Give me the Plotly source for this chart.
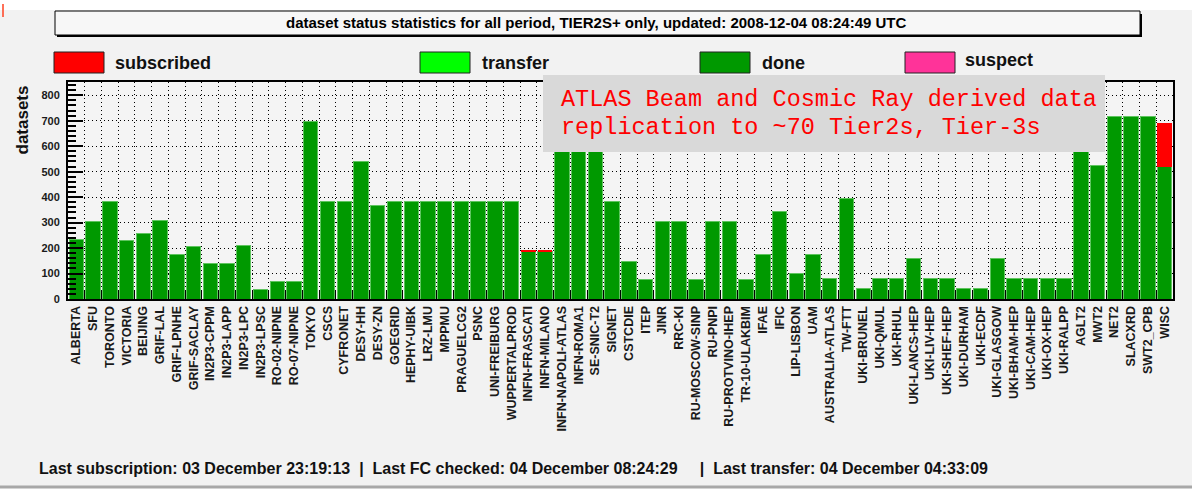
import plotly.graph_objects as go

sites = ["ALBERTA", "SFU", "TORONTO", "VICTORIA", "BEIJING", "GRIF-LAL", "GRIF-LPNHE", "GRIF-SACLAY",
         "IN2P3-CPPM", "IN2P3-LAPP", "IN2P3-LPC", "IN2P3-LPSC", "RO-02-NIPNE", "RO-07-NIPNE", "TOKYO",
         "CSCS", "CYFRONET", "DESY-HH", "DESY-ZN", "GOEGRID", "HEPHY-UIBK", "LRZ-LMU", "MPPMU",
         "PRAGUELCG2", "PSNC", "UNI-FREIBURG", "WUPPERTALPROD", "INFN-FRASCATI", "INFN-MILANO",
         "INFN-NAPOLI-ATLAS", "INFN-ROMA1", "SE-SNIC-T2", "SIGNET", "CSTCDIE", "ITEP", "JINR", "RRC-KI",
         "RU-MOSCOW-SINP", "RU-PNPI", "RU-PROTVINO-IHEP", "TR-10-ULAKBIM", "IFAE", "IFIC", "LIP-LISBON",
         "UAM", "AUSTRALIA-ATLAS", "TW-FTT", "UKI-BRUNEL", "UKI-QMUL", "UKI-RHUL", "UKI-LANCS-HEP",
         "UKI-LIV-HEP", "UKI-SHEF-HEP", "UKI-DURHAM", "UKI-ECDF", "UKI-GLASGOW", "UKI-BHAM-HEP",
         "UKI-CAM-HEP", "UKI-OX-HEP", "UKI-RALPP", "AGLT2", "MWT2", "NET2", "SLACXRD", "SWT2_CPB", "WISC"]

done = [232, 304, 382, 231, 258, 310, 173, 206,
        141, 141, 211, 36, 67, 67, 698,
        382, 382, 539, 369, 382, 382, 382, 382,
        382, 382, 382, 382, 185, 185,
        715, 715, 715, 382, 147, 75, 304, 304,
        75, 304, 304, 75, 173, 343, 102,
        173, 80, 396, 41, 80, 80, 160,
        80, 80, 41, 41, 160, 80,
        80, 80, 80, 715, 526, 715, 716, 716, 520]

subscribed = [0] * 27 + [5, 5] + [0] * 36 + [170]
transfer = [0] * 66
suspect = [0] * 66

y_ticks = [0, 100, 200, 300, 400, 500, 600, 700, 800]

title_text = "dataset status statistics for all period, TIER2S+ only, updated: 2008-12-04 08:24:49 UTC"
note_lines = ["ATLAS Beam and Cosmic Ray derived data", "replication to ~70 Tier2s, Tier-3s"]
footer = ("Last subscription: 03 December 23:19:13  |  Last FC checked: 04 December 08:24:29     |  "
          "Last transfer: 04 December 04:33:09")

W, H = 1192, 493
L, R, T, B = 68, 1173, 82, 299


def px(x):
    return (x - L) / (R - L)


def py(y):
    return (B - y) / (B - T)


fig = go.Figure()
fig.add_trace(go.Bar(x=sites, y=done, name="done", marker=dict(color="#009900", line=dict(color="#5ec45e", width=1))))
fig.add_trace(go.Bar(x=sites, y=transfer, name="transfer", marker=dict(color="#00ff00", line=dict(width=0))))
fig.add_trace(go.Bar(x=sites, y=suspect, name="suspect", marker=dict(color="#ff3399", line=dict(width=0))))
fig.add_trace(go.Bar(x=sites, y=subscribed, name="subscribed", marker=dict(color="#ff0000", line=dict(width=0))))

shapes = []
annotations = []

# white strips top/bottom and separator
shapes.append(dict(type="rect", xref="paper", yref="paper", x0=px(0), x1=px(W), y0=py(0), y1=py(10),
                   fillcolor="white", line=dict(width=0), layer="above"))
shapes.append(dict(type="rect", xref="paper", yref="paper", x0=px(0), x1=px(W), y0=py(487), y1=py(H + 2),
                   fillcolor="white", line=dict(width=0), layer="above"))
shapes.append(dict(type="line", xref="paper", yref="paper", x0=px(0), x1=px(W), y0=py(487), y1=py(487),
                   line=dict(color="#a8a8a8", width=3), layer="above"))
shapes.append(dict(type="line", xref="paper", yref="paper", x0=px(3), x1=px(3), y0=py(4), y1=py(17),
                   line=dict(color="#ff4020", width=1.5), layer="above"))

# title box with shadow
shapes.append(dict(type="rect", xref="paper", yref="paper", x0=px(57), x1=px(1142), y0=py(14), y1=py(37),
                   fillcolor="black", line=dict(width=0), layer="above"))
shapes.append(dict(type="rect", xref="paper", yref="paper", x0=px(55), x1=px(1140), y0=py(11), y1=py(35),
                   fillcolor="#f7f7f7", line=dict(color="black", width=1), layer="above"))
annotations.append(dict(xref="paper", yref="paper", x=px(596), y=py(23), text=title_text, showarrow=False,
                        xanchor="center", yanchor="middle",
                        font=dict(family="Liberation Sans, Arial", size=15, color="black", weight="bold")))

# legend
legend_items = [("subscribed", "#ff0000", 54, 113, 63), ("transfer", "#00ff00", 420, 480, 63),
                ("done", "#009900", 700, 760, 63), ("suspect", "#ff3399", 905, 963, 60)]
for label, color, rx, tx, ty in legend_items:
    shapes.append(dict(type="rect", xref="paper", yref="paper", x0=px(rx), x1=px(rx + 50), y0=py(52), y1=py(73),
                       fillcolor=color, line=dict(color="#222222", width=1), layer="above"))
    annotations.append(dict(xref="paper", yref="paper", x=px(tx), y=py(ty), text=label, showarrow=False,
                            xanchor="left", yanchor="middle",
                            font=dict(family="Liberation Sans, Arial", size=18, color="#111111", weight="bold")))

# note box
shapes.append(dict(type="rect", xref="paper", yref="paper", x0=px(543), x1=px(1105), y0=py(75), y1=py(152),
                   fillcolor="#d9d9d9", line=dict(width=0), layer="above"))
for i, line in enumerate(note_lines):
    annotations.append(dict(xref="paper", yref="paper", x=px(559), y=py(99 + 28 * i), text=line, showarrow=False,
                            xanchor="left", yanchor="middle",
                            font=dict(family="Liberation Mono, Courier New, monospace", size=23.5, color="#ff0000")))

# y axis title
annotations.append(dict(xref="paper", yref="paper", x=px(22), y=py(84), text="datasets", showarrow=False,
                        textangle=-90, xanchor="center", yanchor="top",
                        font=dict(family="Liberation Sans, Arial", size=17, color="#111111", weight="bold")))

# footer
annotations.append(dict(xref="paper", yref="paper", x=px(37), y=py(468), text=footer, showarrow=False,
                        xanchor="left", yanchor="middle",
                        font=dict(family="Liberation Sans, Arial", size=16, color="#111111", weight="bold")))

fig.update_layout(
    width=W, height=H,
    margin=dict(l=L, r=W - R, t=T, b=H - B, pad=0),
    barmode="stack", bargap=0.14,
    showlegend=False,
    paper_bgcolor="#f2f2f2", plot_bgcolor="#f4f4f4",
    shapes=shapes, annotations=annotations,
    xaxis=dict(type="category", range=[-0.5, len(sites) - 0.5], tickangle=-90,
               tickfont=dict(family="Liberation Sans, Arial", size=12.5, color="#1a1a1a", weight="bold"),
               ticks="inside", tickson="boundaries", ticklen=9, tickcolor="black", tickwidth=1,
               showgrid=True, gridcolor="black", griddash="1px,3px", gridwidth=1,
               showline=True, linecolor="black", linewidth=2, mirror=True),
    yaxis=dict(range=[0, 852], tickvals=y_ticks,
               tickfont=dict(family="Liberation Sans, Arial", size=11, color="#1a1a1a", weight="bold"),
               ticks="inside", ticklen=15, tickcolor="black", tickwidth=2, ticklabelstandoff=4,
               minor=dict(dtick=20, ticks="inside", ticklen=8, tickcolor="black", showgrid=False),
               showgrid=True, gridcolor="black", griddash="1px,3px", gridwidth=1, zeroline=False,
               showline=True, linecolor="black", linewidth=2, mirror=True),
)

fig.write_html("out.html", config={"displayModeBar": False},
               post_script="document.body.style.margin='0';document.body.style.overflow='hidden';")
